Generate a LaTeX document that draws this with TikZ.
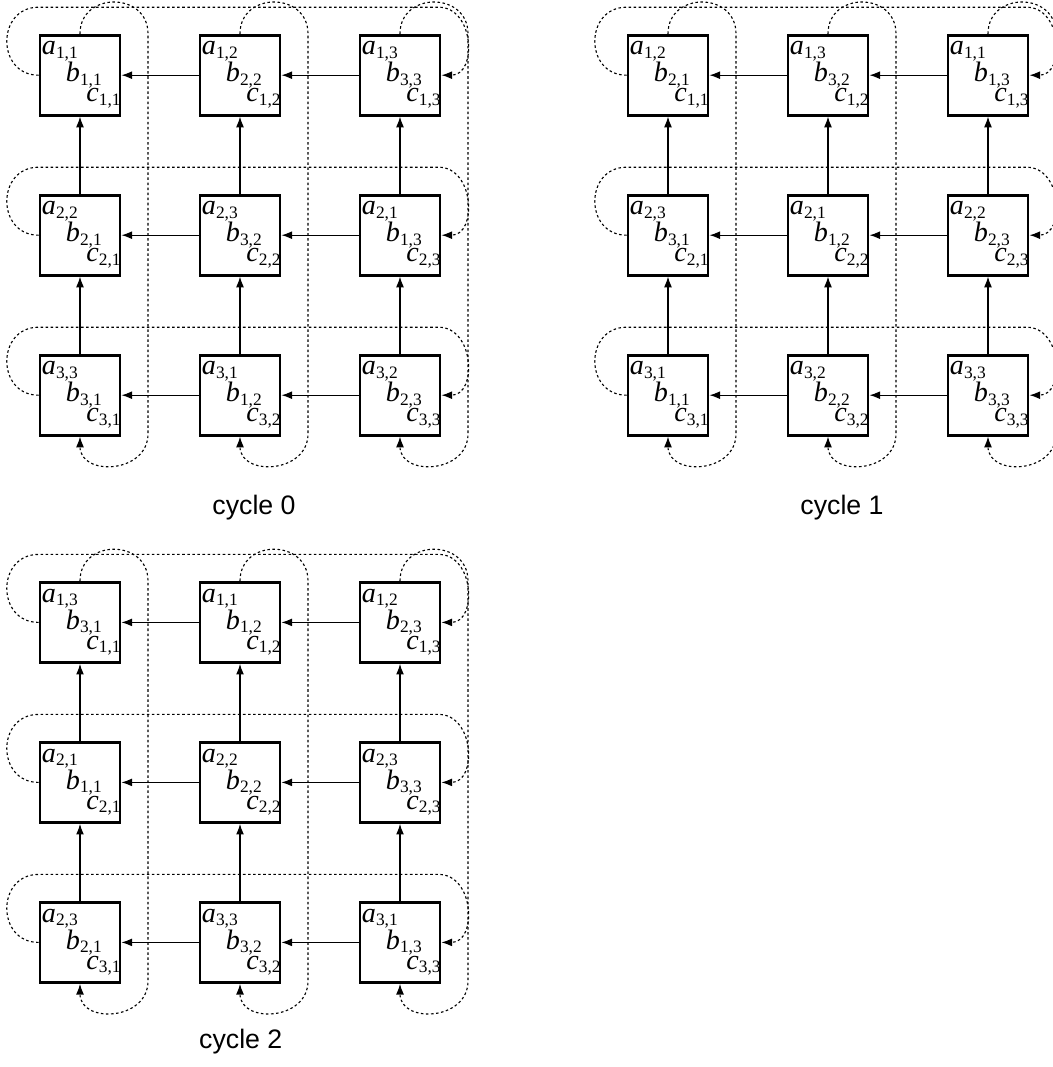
\documentclass[tikz,border=0pt]{standalone}
\usepackage{fontspec}
\setmainfont{Liberation Serif}
\setsansfont{Liberation Sans}
\usetikzlibrary{arrows.meta}

\newcommand{\ent}[2]{\textit{#1}\raisebox{-1.2pt}{\fontsize{6.2}{6.2}\selectfont #2}}
% one processor box: name, position, subscripts of a, b, c
\newcommand{\mkcell}[5]{%
  \node[cell] at (#2)(#1){};
  \node[sym] at ([shift={(0.035,-0.265)}]#1.north west)(#1a){\ent{a}{#3}};
  \node[sym] at ([shift={(0.335,-0.6)}]#1.north west)(#1b){\ent{b}{#4}};
  \node[sym] at ([shift={(0.59,-0.85)}]#1.north west)(#1c){\ent{c}{#5}};
}

\tikzset{
  cell/.style={draw, line width=1pt, minimum size=1cm, inner sep=0pt},
  sym/.style={anchor=base west, inner sep=0pt, font=\fontsize{10}{10}\selectfont},
  wrap/.style={line width=0.4pt, dash pattern=on 0.9pt off 0.9pt},
  cyc/.style={anchor=base, font=\sffamily\fontsize{9.5}{9.5}\selectfont},
  >={Latex[length=3.8pt,width=2.8pt]}
}

\begin{document}
\begin{tikzpicture}
    \useasboundingbox (0,0) rectangle (13.15,-13.3375);

    % cycle 0
    \mkcell{p011}{1,-0.94}{1,1}{1,1}{1,1}
    \mkcell{p012}{3,-0.94}{1,2}{2,2}{1,2}
    \mkcell{p013}{5,-0.94}{1,3}{3,3}{1,3}
    \mkcell{p021}{1,-2.94}{2,2}{2,1}{2,1}
    \mkcell{p022}{3,-2.94}{2,3}{3,2}{2,2}
    \mkcell{p023}{5,-2.94}{2,1}{1,3}{2,3}
    \mkcell{p031}{1,-4.94}{3,3}{3,1}{3,1}
    \mkcell{p032}{3,-4.94}{3,1}{1,2}{3,2}
    \mkcell{p033}{5,-4.94}{3,2}{2,3}{3,3}
    \node[cyc] at (3.175,-6.43)(t0){cycle 0};

    % cycle 1
    \begin{scope}[shift={(7.35,0)}]
    \mkcell{p111}{1,-0.94}{1,2}{2,1}{1,1}
    \mkcell{p112}{3,-0.94}{1,3}{3,2}{1,2}
    \mkcell{p113}{5,-0.94}{1,1}{1,3}{1,3}
    \mkcell{p121}{1,-2.94}{2,3}{3,1}{2,1}
    \mkcell{p122}{3,-2.94}{2,1}{1,2}{2,2}
    \mkcell{p123}{5,-2.94}{2,2}{2,3}{2,3}
    \mkcell{p131}{1,-4.94}{3,1}{1,1}{3,1}
    \mkcell{p132}{3,-4.94}{3,2}{2,2}{3,2}
    \mkcell{p133}{5,-4.94}{3,3}{3,3}{3,3}
    \end{scope}
    \node[cyc] at (10.525,-6.43)(t1){cycle 1};

    % cycle 2
    \begin{scope}[shift={(0,-6.84)}]
    \mkcell{p211}{1,-0.94}{1,3}{3,1}{1,1}
    \mkcell{p212}{3,-0.94}{1,1}{1,2}{1,2}
    \mkcell{p213}{5,-0.94}{1,2}{2,3}{1,3}
    \mkcell{p221}{1,-2.94}{2,1}{1,1}{2,1}
    \mkcell{p222}{3,-2.94}{2,2}{2,2}{2,2}
    \mkcell{p223}{5,-2.94}{2,3}{3,3}{2,3}
    \mkcell{p231}{1,-4.94}{2,3}{2,1}{3,1}
    \mkcell{p232}{3,-4.94}{3,3}{3,2}{3,2}
    \mkcell{p233}{5,-4.94}{3,1}{1,3}{3,3}
    \end{scope}
    \node[cyc] at (3.01,-13.1)(t2){cycle 2};

    % shifts to the left and upwards, with wrap-around
    \foreach \g in {0,1,2}{
        \foreach \i in {1,2,3}{
            \draw[->] (p\g\i2) -- (p\g\i1);
            \draw[->] (p\g\i3) -- (p\g\i2);
            \draw[->] (p\g2\i) -- (p\g1\i);
            \draw[->] (p\g3\i) -- (p\g2\i);
            \draw[wrap,->] (p\g\i1.west) .. controls +(-0.53,0) and +(-0.53,0) .. ++(0,0.85)
                -- ++(5,0) .. controls +(0.45,0) and +(0.45,0) .. (p\g\i3.east);
            \draw[wrap,->] (p\g1\i.north) .. controls +(0,0.53) and +(0,0.53) .. ++(0.85,0)
                -- ++(0,-5) .. controls +(0,-0.5) and +(0,-0.5) .. (p\g3\i.south);
        }
    }
\end{tikzpicture}
\end{document}
